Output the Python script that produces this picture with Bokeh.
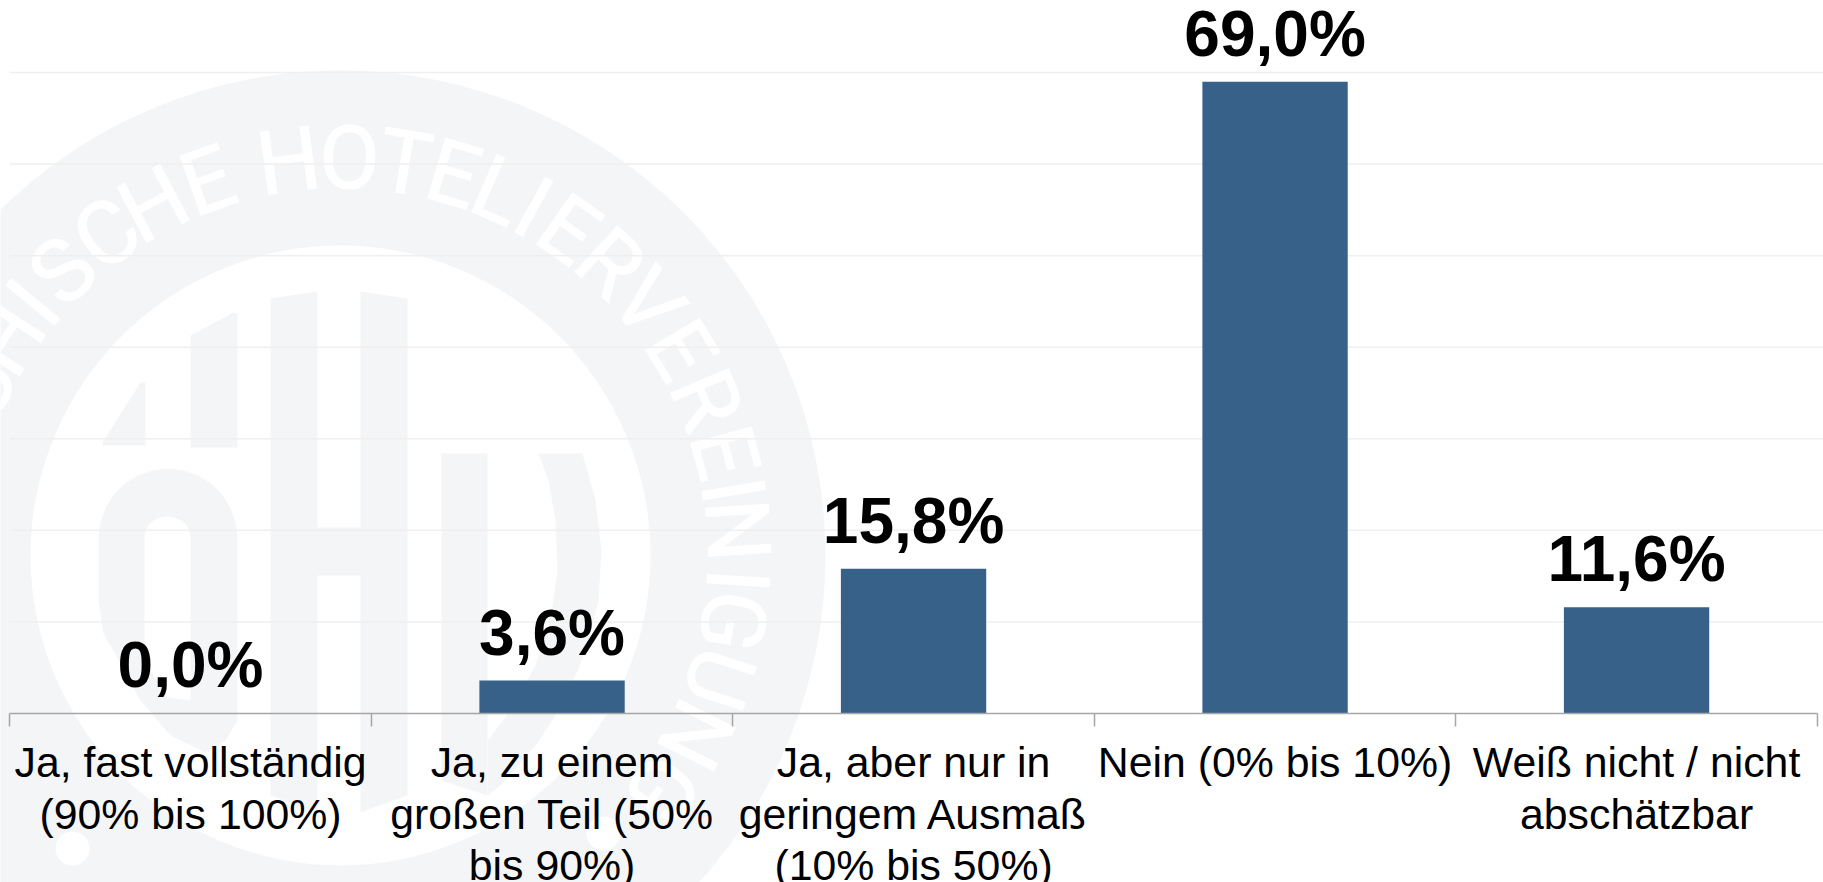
import math
from bokeh.core.properties import value
from bokeh.embed import file_html
from bokeh.models import FixedTicker, Range1d
from bokeh.plotting import figure
from bokeh.resources import INLINE

categories = ["Ja, fast vollständig\n(90% bis 100%)",
              "Ja, zu einem\ngroßen Teil (50%\nbis 90%)",
              "Ja, aber nur in\ngeringem Ausmaß\n(10% bis 50%)",
              "Nein (0% bis 10%)",
              "Weiß nicht / nicht\nabschätzbar"]
values = [0.0, 3.6, 15.8, 69.0, 11.6]
value_labels = ["0,0%", "3,6%", "15,8%", "69,0%", "11,6%"]
grid_values = [10, 20, 30, 40, 50, 60, 70]

BAR = "#38618A"
WM = "#F4F5F7"
W, H = 1823, 882

p = figure(width=W, height=H, output_backend="svg", toolbar_location=None,
           x_range=Range1d(-0.0257, 5.0171), y_range=Range1d(-18.456, 77.864),
           y_axis_location=None, min_border=0, outline_line_color=None,
           margin=(0, 0, 0, 0), background_fill_color="white")
p.grid.visible = False
p.extra_x_ranges["px"] = Range1d(0, W)
p.extra_y_ranges["px"] = Range1d(H, 0)

# ---- watermark (pixel coordinates) ----
CX, CY = 340, 555
wm = dict(x_range_name="px", y_range_name="px")
p.annulus(x=[CX], y=[CY], inner_radius=310, outer_radius=485, fill_color=WM, line_color=None, **wm)

ring_letters = [("C", -65), ("H", -57), ("I", -50.5), ("S", -44.3), ("C", -36), ("H", -28), ("E", -19.5),
                ("H", -7.5), ("O", 1.3), ("T", 9.3), ("E", 16.5), ("L", 23.5), ("I", 29), ("E", 35), ("R", 42.7),
                ("V", 50.6), ("E", 58.9), ("R", 66.9), ("E", 75), ("I", 80.6), ("N", 86.4), ("I", 93.6), ("G", 99.5),
                ("U", 108), ("N", 116.8), ("G", 126)]
RL = 398
p.text(x=[CX + RL * math.sin(math.radians(a)) for _, a in ring_letters],
       y=[CY - RL * math.cos(math.radians(a)) for _, a in ring_letters],
       text=[c for c, _ in ring_letters],
       angle=[-a for _, a in ring_letters], angle_units="deg",
       text_font=value("Roboto"), text_font_size="88px",
       text_align="center", text_baseline="middle", text_color="white",
       text_outline_color="white", **wm)
p.scatter(x=[72, 603], y=[848, 833], size=34, fill_color="white", line_color=None, **wm)


def top_arc(cx, cy, rx, ry, n=14):
    return [(cx - rx * math.cos(math.pi * i / n), cy - ry * math.sin(math.pi * i / n)) for i in range(n + 1)]


shapes = [
    [(102, 442), (140, 382), (145, 382), (145, 445), (103, 445)],
    [(190, 335), (233, 312), (237, 313), (237, 447), (190, 447)],
    # H
    [(270, 298), (317, 291), (317, 527), (360, 527), (360, 291), (407, 298), (407, 795), (360, 812),
     (360, 575), (317, 575), (317, 812), (270, 795)],
    # D
    [(441, 453), (487, 453), (487, 795), (441, 780)],
    [(538, 453), (582, 453), (595, 500), (601, 550), (598, 600), (585, 650), (565, 700), (535, 745), (500, 785),
     (487, 795), (487, 740), (510, 710), (535, 665), (550, 620), (557, 570), (555, 520), (548, 480)],
    # O
    top_arc(167.5, 538, 69.5, 70) + [(237, 720), (225, 740), (205, 752), (170, 735), (140, 700), (120, 663),
                                     (103, 633), (98, 600)],
]
p.patches([[q[0] for q in s] for s in shapes], [[q[1] for q in s] for s in shapes],
          fill_color=WM, line_color=None, **wm)
hole = top_arc(167, 536, 23, 20, 10) + [(190, 700), (167, 697), (150, 670), (144, 640)]
p.patch([q[0] for q in hole], [q[1] for q in hole], fill_color="white", line_color=None, **wm)

# ---- grid ----
p.segment(x0=[0] * len(grid_values), x1=[5.0171] * len(grid_values), y0=grid_values, y1=grid_values,
          line_color="#EFEFEF", line_width=1.5)

# ---- bars ----
xs = [i + 0.5 for i in range(len(values))]
p.vbar(x=xs, top=values, bottom=0, width=0.402, fill_color=BAR, line_color=None)
p.text(x=xs, y=values, text=value_labels, y_offset=-48,
       text_font=value("Liberation Sans"), text_font_style="bold", text_font_size="64px",
       text_align="center", text_baseline="alphabetic", text_color="black")

# ---- axis ----
ax = p.xaxis[0]
ax.fixed_location = 0
ax.bounds = (0, 5)
ax.ticker = FixedTicker(ticks=xs, minor_ticks=list(range(6)))
ax.major_label_overrides = {x: c for x, c in zip(xs, categories)}
ax.axis_line_color = "#A6A6A6"
ax.axis_line_width = 1.5
ax.major_tick_line_color = None
ax.minor_tick_line_color = "#A6A6A6"
ax.minor_tick_line_width = 1.5
ax.minor_tick_in = 0
ax.minor_tick_out = 13
ax.major_tick_in = 0
ax.major_tick_out = 0
ax.major_label_standoff = 12
ax.major_label_text_font = "Liberation Sans"
ax.major_label_text_font_size = "42.8px"
ax.major_label_text_color = "black"
ax.major_label_text_line_height = 1.07
ax.major_label_orientation = "horizontal"

open("out.html", "w").write(file_html(p, INLINE))
